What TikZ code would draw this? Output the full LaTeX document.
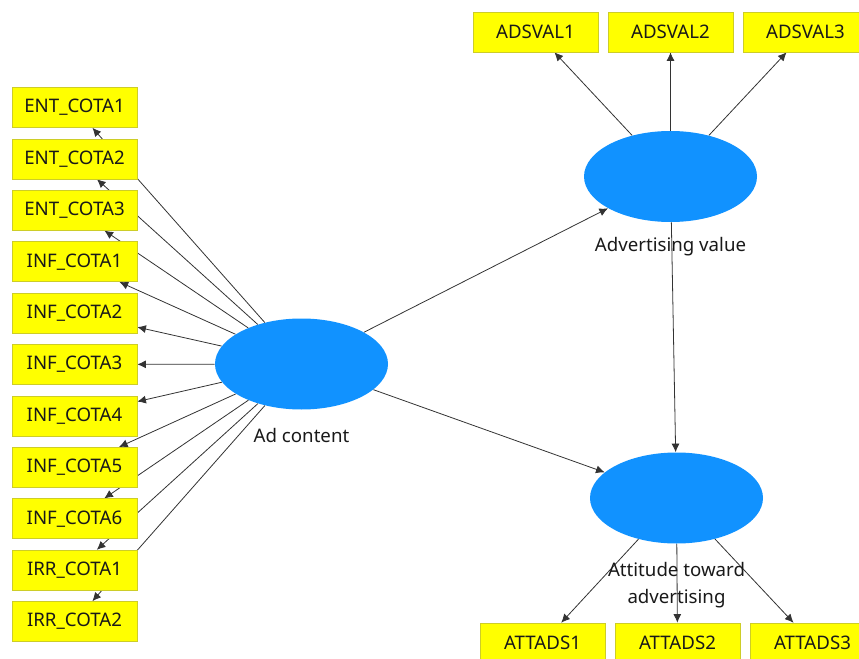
\documentclass[tikz,border=0pt]{standalone}
\usepackage{fontspec}
\setmainfont{Noto Sans}
\usetikzlibrary{arrows.meta,backgrounds,shapes.geometric}
\definecolor{lvblue}{RGB}{17,146,255}
\definecolor{mvyellow}{RGB}{255,255,0}
\definecolor{mvborder}{RGB}{205,205,40}
\tikzset{mv/.style={draw=mvborder,fill=mvyellow,minimum width=93.75pt,minimum height=30pt,inner sep=0pt,text=black!90,font=\fontsize{14}{16}\selectfont},
	lv/.style={ellipse,fill=lvblue,minimum width=129.75pt,minimum height=68.25pt,inner sep=0pt},
	lvname/.style={align=center,text=black!90,font=\fontsize{14}{20}\selectfont},
	link/.style={->,draw=black!80,line width=0.6pt}}

\begin{document}
\begin{tikzpicture}[x=0.75pt,y=-0.75pt,>={Latex[length=6.5pt,width=6pt]}]
\useasboundingbox (0,0) rectangle (859,659);

\node[lv] (ad) at (301.5,364) {};
\node[lv] (val) at (670.5,176.5) {};
\node[lv] (att) at (676.5,498) {};

\node[lvname] (adname) at (301.5,435) {Ad content};
\node[lvname] (valname) at (670.5,247) {Advertising value};
\node[lvname] (attname) at (676.5,585) {Attitude toward\\advertising};

\foreach \n/\t [count=\k from 0] in {ent1/ENT\_COTA1,ent2/ENT\_COTA2,ent3/ENT\_COTA3,inf1/INF\_COTA1,inf2/INF\_COTA2,inf3/INF\_COTA3,inf4/INF\_COTA4,inf5/INF\_COTA5,inf6/INF\_COTA6,irr1/IRR\_COTA1,irr2/IRR\_COTA2} {
	\node[mv] (\n) at (74.5,{107.5+51.4*\k}) {\t};
};
\foreach \n/\t/\x in {val1/ADSVAL1/535.5,val2/ADSVAL2/670.5,val3/ADSVAL3/805.5} {
	\node[mv] (\n) at (\x,32) {\t};
};
\foreach \n/\t/\x in {att1/ATTADS1/542.5,att2/ATTADS2/677.5,att3/ATTADS3/812.5} {
	\node[mv] (\n) at (\x,643) {\t};
};

\begin{scope}[on background layer]
\foreach \n in {ent1,ent2,ent3,inf1,inf2,inf3,inf4,inf5,inf6,irr1,irr2} {
	\draw[link] (ad) -- (\n);
};
\draw[link] (ad) -- (val);
\draw[link] (ad) -- (att);
\draw[link] (val) -- (att);
\foreach \n in {val1,val2,val3} {
	\draw[link] (val) -- (\n);
};
\foreach \n in {att1,att2,att3} {
	\draw[link] (att) -- (\n);
};
\end{scope}

\end{tikzpicture}
\end{document}
